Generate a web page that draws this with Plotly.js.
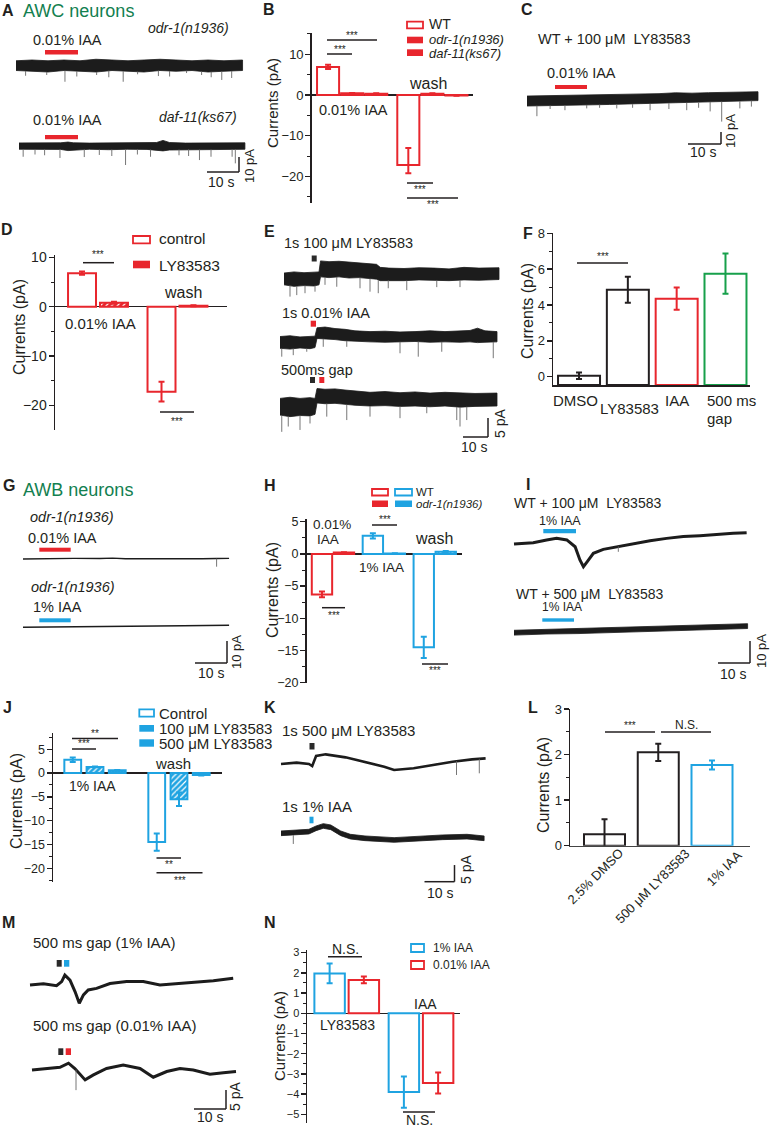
<!DOCTYPE html>
<html><head><meta charset="utf-8">
<script src="https://cdn.plot.ly/plotly-3.0.1.min.js"></script>
<style>html,body{margin:0;padding:0;background:#fff}#fig{width:770px;height:1129px}</style>
</head><body><div id="fig"></div>
<script>
// ===================== DATA =====================
// --- A: AWC recordings (time s, current pA) ---
const A1_t  = [0,5,10,15,20,25,30,35,40,45,50,55,60,65,70.8];
const A1_hi = [1.5,2,1.5,2,1.5,2.5,2,1.5,2,2.5,2,1.5,2,1.5,2];
const A1_lo = [-5,-5.5,-6,-5,-5.5,-6,-5,-5.5,-6,-5,-5.5,-5,-6,-5.5,-5];
const A1_spkT = [3,9.6,15.3,19,25.2,29,33.5,38,44.5,48,53.3,58,61,64.3,67.4];
const A1_spkV = [-8.5,-8,-12.5,-9,-8,-9.5,-12.5,-7.5,-8.7,-9,-6.7,-8,-9.5,-11.3,-10];
const A2_t  = [0,5,10,13,15.3,17,22,28,34,40,43,45,47,52,58,64,70.6];
const A2_hi = [0.7,0.8,0.6,0.8,1.3,0.8,0.6,0.8,0.6,0.8,1.0,2.4,1.0,0.6,0.8,0.6,0.8];
const A2_lo = [-3.5,-3.8,-3.5,-3.6,-4.4,-3.8,-3.5,-3.8,-3.5,-3.6,-4,-4.6,-4,-3.5,-3.8,-3.6,-3.5];
const A2_spkT = [1.3,5,8,12.8,20.4,25.1,29,33.3,37,41.1,50,53,56.4,60,66.6,67.6];
const A2_spkV = [-8.5,-7,-7.5,-9.3,-8.7,-7.3,-8,-14,-7,-8.5,-7.5,-8,-10.7,-8.5,-8.5,-12.9];
// --- C ---
const C_t  = [0,5,10,15,20,25,30,35,40,45,50,55,60,65,70];
const C_hi = [0.8,1.0,1.2,1.5,1.8,2.0,2.2,2.5,2.8,3.5,3.2,3.6,4.0,4.2,4.4];
const C_lo = [-7.5,-7.2,-7,-6.8,-6.5,-6.2,-6,-5.8,-5.5,-5,-4.8,-4.2,-3.8,-3.4,-3];
const C_spkT = [3,7,11.5,18.1,22,27.2,32,37.3,43,48.4,52,55.5,59,64.5,68];
const C_spkV = [-16,-10,-11,-9.5,-9,-9.5,-9,-11,-10,-11,-9,-12,-20.5,-9.5,-8];
// --- E ---
const E1_t  = [0,4,8,12,14,14.6,18,22,26,30,34,37,38.5,42,48,54,60,66,72,78,86];
const E1_hi = [1.3,1.6,1.4,1.5,1.6,4.5,4.3,4.4,4.2,4.0,3.8,3.6,2.8,2.6,2.5,2.7,2.6,2.4,2.8,2.6,2.7];
const E1_lo = [-1.8,-2.2,-2.0,-2.1,-1.8,0.3,0.1,0.3,0.0,0.1,-0.2,-0.3,-0.7,-0.6,-0.7,-0.5,-0.6,-0.7,-0.5,-0.6,-0.4];
const E1_spkT = [2.4,5.1,8.4,12.4,16.4,21.1,30.4,34.4,37.7,41.7,49.1,61.1,70.4];
const E1_spkV = [-4.9,-4.5,-4.0,-3.6,-1.8,-2.3,-2.7,-3.6,-4.0,-2.7,-3.2,-2.4,-2.4];
const E2_t  = [0,4,8,12,14,14.8,18,22,26,30,36,42,48,54,60,66,72,76,79,82,86.8];
const E2_hi = [1.7,1.9,1.6,1.8,1.8,4.0,4.2,3.8,3.6,3.2,3.0,3.1,2.9,3.0,3.2,3.0,3.1,3.3,3.9,3.2,3.0];
const E2_lo = [-1.4,-1.6,-1.3,-1.5,-1.2,1.2,1.0,0.9,0.6,0.4,0.3,0.2,0.3,0.4,0.2,0.3,0.2,0.3,0.1,0.2,0.3];
const E2_spkT = [0.7,5.3,10.7,17.3,26.7,48,55.3,64.7,85.3];
const E2_spkV = [-3.6,-3.2,-2.3,-1.0,-1.0,-2.7,-3.6,-2.3,-4.0];
const E3_t  = [0,4,8,12,14,14.8,18,22,26,30,36,42,48,54,60,66,72,78,86.8];
const E3_hi = [2.0,2.3,2.0,2.2,2.0,4.6,4.4,4.5,4.2,4.0,3.6,3.8,3.5,3.7,3.4,3.6,3.5,3.3,3.4];
const E3_lo = [-2.4,-2.8,-2.5,-2.6,-2.2,0.8,0.6,0.7,0.4,0.2,0.0,0.1,-0.1,0.0,-0.2,0.0,-0.3,-0.1,0.0];
const E3_spkT = [0.7,3.3,8,12,18.7,26.7,36,48,58.7,70.7,72,74.7];
const E3_spkV = [-6.8,-5.4,-6.3,-4.6,-2.8,-3.7,-2.8,-3.2,-1.9,-3.7,-5.4,-3.7];
// --- G ---
const G1_t = [0,8,16,24,28,32,40,48,56,60.5,64.4];
const G1_v = [0,0.2,0.3,0.2,0.4,0.1,0,0.2,0.1,0.2,0.3];
const G1_spkT = [60.5], G1_spkV = [-3.5];
const G2_t = [0,10,20,30,40,50,64.4];
const G2_v = [0,0.2,0.3,0.4,0.5,0.7,0.9];
// --- I ---
const I1_t = [0,6,10.2,13.3,16.5,19.1,20.6,21.7,22.9,24.8,27.9,32.1,37.3,42.5,47.7,52.9,58.1,63.3,68.5,72.7];
const I1_v = [-0.5,0.1,1.4,2.1,1.4,-1.7,-7.7,-10.8,-8.5,-4.7,-2.9,-1.7,-0.2,1.0,2.1,2.9,3.3,4.0,4.4,4.7];
const I1_spkT = [32.6], I1_spkV = [-4];
const I2_t  = [0,10,20,30,40,50,60,73];
const I2_hi = [1.1,1.5,1.9,2.3,2.6,3.1,3.5,4.1];
const I2_lo = [-1.1,-0.6,-0.4,0.1,0.4,0.9,1.3,1.9];
// --- K ---
const K1_t = [0,5.2,9.3,10.4,11.7,14.9,21.5,28,34.4,37.7,44.2,50.7,57.2,63.7,68.2];
const K1_v = [-0.3,0.1,-0.3,-0.9,2.1,2.6,1.7,0.4,-1.1,-2.1,-1.6,-0.6,0.4,1.1,1.4];
const K1_spkT = [58.5,66.1], K1_spkV = [-3.6,-3.1];
const K2_t  = [0,5.2,9.3,11.7,14.1,16.6,19.9,23.1,28,37.7,45.8,53.9,62,67.7];
const K2_hi = [0.7,0.9,1.2,2.2,2.9,2.5,0.7,-0.3,-0.8,-1.3,-0.8,-0.5,-0.3,-0.8];
const K2_lo = [-0.7,-0.5,-0.2,0.8,1.5,1.1,-0.7,-1.7,-2.2,-2.7,-2.2,-1.9,-1.7,-2.2];
const K2_spkT = [4.1], K2_spkV = [-3.2];
// --- M ---
const M1_t = [0,4.2,8.3,9.9,10.9,12.5,14.1,15.4,16.7,18.2,20.8,25,30.2,35.4,40.6,45.8,51,57.3,63.5];
const M1_v = [0,0.3,-0.2,0.9,2.6,1.3,-1.8,-4.8,-2.6,-1.3,-0.9,0.4,0.9,0.9,0,0.3,0.6,1.1,1.8];
const M2_t = [0,4.6,8.75,11.4,13.4,16.6,19.2,23.3,28.5,33.75,37.9,42.1,46.25,50.4,55.6,59.8,63.75];
const M2_v = [0,0.3,0.7,1.8,0.4,-2.6,-1.3,0.4,1.3,0.4,-1.9,-0.4,0.4,0,-1.1,-0.7,-0.4];
const M2_spkT = [13.75], M2_spkV = [-5.3];

// --- Bar panels (pA, mean and error) ---
const B_groups = ['0.01% IAA','wash'];
const B_WT = [6.9,-17.2], B_WT_errUp = [0.5,4.2], B_WT_errDn = [0.5,2.0];
const B_odr1 = [0.4,0.3],  B_odr1_err = [0.1,0.1];
const B_daf11 = [0.3,-0.1], B_daf11_err = [0.1,0.1];

const D_groups = ['0.01% IAA','wash'];
const D_control = [6.8,-17.2], D_control_err = [0.35,2.0];
const D_LY = [0.8,0.2], D_LY_err = [0.2,0.1];

const F_cats = ['DMSO','LY83583','IAA','500 ms gap'];
const F_vals = [0.05,4.85,4.35,5.75];
const F_err  = [0.18,0.72,0.62,1.12];

const H_groups = ['0.01% IAA','1% IAA','wash'];
const H_WT = [-6.3,2.8,-14.5], H_WT_err = [0.45,0.4,1.65];
const H_odr1 = [0.2,0.05,0.35], H_odr1_err = [0.05,0.05,0.1];

const J_groups = ['1% IAA','wash'];
const J_control = [2.8,-14.5], J_control_err = [0.45,1.8];
const J_LY100 = [1.3,-5.5], J_LY100_err = [0.1,1.4];
const J_LY500 = [0.6,-0.4], J_LY500_err = [0.05,0.1];

const L_cats = ['2.5% DMSO','500 μM LY83583','1% IAA'];
const L_vals = [0.25,2.05,1.77];
const L_err  = [0.33,0.19,0.1];

const N_groups = ['LY83583','IAA'];
const N_IAA1 = [1.97,-3.9],  N_IAA1_err = [0.49,0.77];
const N_IAA001 = [1.65,-3.45], N_IAA001_err = [0.17,0.52];

// ===================== DRAWING =====================
const W=770, H=1129, FONT='"Liberation Sans", Arial, sans-serif';
const BLK='#231f20', RED='#e8262d', BLUE='#1fa3e1', GREEN='#17a04b', TGREEN='#138050', TR='#1c1c1c';
const data=[], shapes=[], annotations=[];
const layout={width:W,height:H,margin:{l:0,r:0,t:0,b:0,pad:0},paper_bgcolor:'#fff',plot_bgcolor:'rgba(0,0,0,0)',
  showlegend:false,barmode:'overlay',font:{family:FONT,color:BLK},shapes,annotations};
const PX=x=>x/W, PY=y=>1-y/H;
const xk=n=>n===1?'xaxis':'xaxis'+n, yk=n=>n===1?'yaxis':'yaxis'+n;
const xr_=n=>n===1?'x':'x'+n, yr_=n=>n===1?'y':'y'+n;

function T(text,x,y,o){o=o||{};annotations.push({text,x:PX(x),y:PY(y),xref:'paper',yref:'paper',showarrow:false,
  xanchor:o.a||'center',yanchor:'middle',textangle:o.rot||0,borderpad:0,font:{family:FONT,size:o.s||14,color:o.c||BLK}});}
function LN(x0,y0,x1,y1,c,w){shapes.push({type:'line',xref:'paper',yref:'paper',x0:PX(x0),y0:PY(y0),x1:PX(x1),y1:PY(y1),line:{color:c||BLK,width:w||1.5}});}
function RC(x0,y0,x1,y1,fill,lc,lw){shapes.push({type:'rect',xref:'paper',yref:'paper',x0:PX(x0),y0:PY(y1),x1:PX(x1),y1:PY(y0),
  fillcolor:fill,line:{color:lc||fill,width:lw||0}});}
function sig(x0,x1,y,label,ly,s){LN(x0,y,x1,y,BLK,1.5);T(label,(x0+x1)/2,ly,{s:s||10});}

function addAxes(n,box,xr,yr,xo,yo){
  layout[xk(n)]=Object.assign({domain:[PX(box[0]),PX(box[1])],range:xr,anchor:yr_(n),showgrid:false,zeroline:false,showline:false,
    showticklabels:false,ticks:'',fixedrange:true},xo||{});
  layout[yk(n)]=Object.assign({domain:[PY(box[3]),PY(box[2])],range:yr,anchor:xr_(n),showgrid:false,zeroline:false,fixedrange:true},yo||{});
}
function yStyle(dtick,minor,fs,zero){
  return {showline:true,linecolor:BLK,linewidth:1.5,ticks:'outside',ticklen:5,tickwidth:1.5,tickcolor:BLK,dtick:dtick,tick0:0,
    tickfont:{size:fs,color:BLK,family:FONT},showticklabels:true,ticklabelstandoff:-1,
    minor:{dtick:minor,ticks:'outside',ticklen:3,tickwidth:1,tickcolor:BLK,showgrid:false},
    zeroline:!!zero,zerolinecolor:BLK,zerolinewidth:1.5};
}
function pat(shape,bg){return {shape:shape,fgcolor:'#ffffff',bgcolor:bg,size:4,solidity:0.3,fillmode:'replace'};}
function barSeries(n,xs,ys,center,width,lc,fill,pattern,base){
  const t={type:'bar',x:xs,y:ys,offset:center-width/2,width:width,xaxis:xr_(n),yaxis:yr_(n),
    marker:{color:fill,line:{color:lc,width:2}},hoverinfo:'skip'};
  if(pattern) t.marker.pattern=pattern;
  if(base!==undefined) t.base=base;
  data.push(t);
}
function errSeries(n,xs,ys,up,dn,color){
  data.push({type:'scatter',mode:'markers',x:xs,y:ys,xaxis:xr_(n),yaxis:yr_(n),hoverinfo:'skip',
    marker:{size:1,color:'rgba(0,0,0,0)'},
    error_y:{type:'data',symmetric:!dn,array:up,arrayminus:dn||up,color:color,thickness:2,width:3,visible:true}});
}
// recordings
const recScale={};
function recAxes(n,box,startPx,basePx,ppx,ppy){
  addAxes(n,box,[(box[0]-startPx)/ppx,(box[1]-startPx)/ppx],[(basePx-box[3])/ppy,(basePx-box[2])/ppy],{visible:false},{visible:false});
  recScale[n]={startPx,basePx,ppx,ppy};
}
function band(n,t,hi,lo){
  data.push({type:'scatter',mode:'lines',x:t.concat(t.slice().reverse()),y:hi.concat(lo.slice().reverse()),fill:'toself',
    fillcolor:TR,line:{color:TR,width:0.8},xaxis:xr_(n),yaxis:yr_(n),hoverinfo:'skip'});
}
function line(n,t,v,w){
  data.push({type:'scatter',mode:'lines',x:t,y:v,line:{color:TR,width:w},xaxis:xr_(n),yaxis:yr_(n),hoverinfo:'skip'});
}
function interp(t,v,x){for(let i=0;i<t.length-1;i++){if(x>=t[i]&&x<=t[i+1]){const f=(x-t[i])/(t[i+1]-t[i]);return v[i]+f*(v[i+1]-v[i]);}}return v[v.length-1];}
function spikes(n,rt,rv,st,sv){
  const x=[],y=[];st.forEach((tt,i)=>{x.push(tt,tt,null);y.push(interp(rt,rv,tt),sv[i],null);});
  data.push({type:'scatter',mode:'lines',x,y,line:{color:'#666',width:0.9},connectgaps:false,xaxis:xr_(n),yaxis:yr_(n),hoverinfo:'skip'});
}
function scaleBar(n,cpx,cpy,sec,pA){
  const s=recScale[n];const cx=(cpx-s.startPx)/s.ppx, cy=(s.basePx-cpy)/s.ppy;
  shapes.push({type:'line',xref:xr_(n),yref:yr_(n),x0:cx-sec,x1:cx,y0:cy,y1:cy,line:{color:BLK,width:1.5}});
  shapes.push({type:'line',xref:xr_(n),yref:yr_(n),x0:cx,x1:cx,y0:cy,y1:cy+pA,line:{color:BLK,width:1.5}});
}

// ---------- Panel B ----------
addAxes(1,[311.7,473,33,203],[-0.504,1.506],[-26.54,15.23],{},yStyle(10,5,13,true));
{const bx=B_groups.map((_,i)=>i);
 barSeries(1,bx,B_WT,-0.3,0.275,RED,'#fff');
 barSeries(1,bx,B_odr1,0,0.275,RED,RED,pat('.',RED));
 barSeries(1,bx,B_daf11,0.3,0.275,RED,RED,pat('+',RED));
 errSeries(1,bx.map(i=>i-0.3),B_WT,B_WT_errUp,B_WT_errDn,RED);
 errSeries(1,bx,B_odr1,B_odr1_err,null,RED);
 errSeries(1,bx.map(i=>i+0.3),B_daf11,B_daf11_err,null,RED);}
T('<b>B</b>',269,9,{s:16});
RC(407,21.7,423,28.3,'#fff',RED,1.8); T('WT',428,24.5,{a:'left',s:14});
RC(407,36.7,423,43.3,RED); T('<i>odr-1(n1936)</i>',428,40,{a:'left',s:13});
RC(407,49.3,423,56,RED); T('<i>daf-11(ks67)</i>',428,53,{a:'left',s:13});
sig(327,352,54,'***',50); sig(327,377,40,'***',35); sig(407,433,183,'***',190); sig(407,458,198,'***',204);
T('0.01% IAA',353,110,{s:14.5}); T('wash',428,83,{s:16});
T('Currents (pA)',272,103,{rot:-90,s:15});

// ---------- Panel D ----------
addAxes(2,[55,227,255,430],[-0.541,1.623],[-24.96,10.47],{},yStyle(10,5,14,true));
{const dx=D_groups.map((_,i)=>i);
 barSeries(2,dx,D_control,-0.201,0.352,RED,'#fff');
 barSeries(2,dx,D_LY,0.201,0.352,RED,RED,pat('/',RED));
 errSeries(2,dx.map(i=>i-0.201),D_control,D_control_err,null,RED);
 errSeries(2,dx.map(i=>i+0.201),D_LY,D_LY_err,null,RED);}
T('<b>D</b>',7,229,{s:16});
RC(133,236,150,243.3,'#fff',RED,1.8); T('control',158,239,{a:'left',s:15.5});
RC(133,260.7,150,268.3,RED); T('LY83583',158,265,{a:'left',s:15.5});
sig(83,114,262.7,'***',255); sig(160,194,412,'***',421);
T('0.01% IAA',101,323,{s:15}); T('wash',183,292,{s:16});
T('Currents (pA)',19,327,{rot:-90,s:16});

// ---------- Panel F ----------
const F_base=-0.463, F_colors=[BLK,BLK,RED,GREEN];
addAxes(3,[553,750,233.3,385],[-0.533,3.502],[F_base,8],{showline:true,linecolor:BLK,linewidth:1.5},yStyle(2,1,13,false));
F_vals.forEach((v,i)=>{barSeries(3,[i],[v-F_base],0,0.86,F_colors[i],'#fff',null,F_base);});
F_vals.forEach((v,i)=>{errSeries(3,[i],[v],[F_err[i]],null,F_colors[i]);});
T('<b>F</b>',528,233,{s:16});
sig(577,628,263,'***',256);
T('DMSO',575,400,{s:15}); T('LY83583',629,408,{s:15}); T('IAA',677,400,{s:15});
T('500 ms',706,400,{a:'left',s:15}); T('gap',706,418,{a:'left',s:15});
T('Currents (pA)',528,311,{rot:-90,s:16});

// ---------- Panel H ----------
const H_colors=[RED,BLUE,BLUE];
addAxes(4,[306.5,462,519,683],[-0.52,2.535],[-20.05,5.42],{},yStyle(5,2.5,12.5,true));
H_groups.forEach((g,i)=>{
  barSeries(4,[i],[H_WT[i]],-0.216,0.40,H_colors[i],'#fff');
  barSeries(4,[i],[H_odr1[i]],0.216,0.40,H_colors[i],H_colors[i],pat('.',H_colors[i]));
  errSeries(4,[i-0.216],[H_WT[i]],[H_WT_err[i]],null,H_colors[i]);
  errSeries(4,[i+0.216],[H_odr1[i]],[H_odr1_err[i]],null,H_colors[i]);
});
T('<b>H</b>',270,485,{s:16});
RC(372,489,388,495.5,'#fff',RED,1.8); RC(395,489,412,495.5,'#fff',BLUE,1.8); T('WT',415,492,{a:'left',s:11.5});
RC(372,500.5,388,507,RED); RC(395,500.5,412,507,BLUE); T('<i>odr-1(n1936)</i>',415,504,{a:'left',s:11.5});
sig(322,345,607.7,'***',615); sig(372,397,525,'***',519.5); sig(422,448,664,'***',670.5);
T('0.01%',332,524,{s:13.5}); T('IAA',328,539,{s:13.5}); T('1% IAA',381,567,{s:13.5}); T('wash',434,538,{s:16});
T('Currents (pA)',272,590,{rot:-90,s:16});

// ---------- Panel J ----------
addAxes(5,[53,222,733,881.7],[-0.5,1.512],[-22.82,8.42],{},yStyle(5,2.5,12.5,true));
{const jx=J_groups.map((_,i)=>i);
 barSeries(5,jx,J_control,-0.265,0.2,BLUE,'#fff');
 barSeries(5,jx,J_LY100,0,0.2,BLUE,BLUE,pat('/',BLUE));
 barSeries(5,jx,J_LY500,0.265,0.2,BLUE,BLUE,{shape:'.',fgcolor:'#7fcdf0',bgcolor:BLUE,size:3,solidity:0.2,fillmode:'replace'});
 errSeries(5,jx.map(i=>i-0.265),J_control,J_control_err,null,BLUE);
 errSeries(5,jx,J_LY100,J_LY100_err,null,BLUE);
 errSeries(5,jx.map(i=>i+0.265),J_LY500,J_LY500_err,null,BLUE);}
T('<b>J</b>',7,707,{s:16});
RC(139.3,709.3,154,716.7,'#fff',BLUE,1.8); T('Control',157.7,713,{a:'left',s:15});
RC(139.3,725,154,731.7,BLUE); T('100 μM LY83583',157.7,728.5,{a:'left',s:15});
RC(139.3,739.3,154,746.7,BLUE); T('500 μM LY83583',157.7,743,{a:'left',s:15});
sig(72,118,738.5,'**',733); sig(72,96,749,'***',743.5);
sig(156.5,181,858,'**',864); sig(156.5,202.5,872.7,'***',880);
T('1% IAA',92,786,{s:14}); T('wash',173,763,{s:15});
T('Currents (pA)',16,801,{rot:-90,s:16});

// ---------- Panel L ----------
const L_colors=[BLK,BLK,BLUE];
addAxes(6,[570,750,709,845.7],[-0.642,2.707],[0,3],{showline:true,linecolor:'#444',linewidth:1.5},yStyle(1,0.5,13,false));
L_vals.forEach((v,i)=>{barSeries(6,[i],[v],0,0.763,L_colors[i],'#fff');});
L_vals.forEach((v,i)=>{errSeries(6,[i],[v],[L_err[i]],null,L_colors[i]);});
T('<b>L</b>',533,707,{s:16});
sig(605,655,732,'***',725); sig(661,711,732,'N.S.',725,12);
T(L_cats[0],595,876,{rot:-45,s:13}); T(L_cats[1],652,886,{rot:-45,s:13}); T(L_cats[2],724,868,{rot:-45,s:13});
T('Currents (pA)',543,785,{rot:-90,s:16});

// ---------- Panel N ----------
addAxes(7,[307,460,950,1123],[-0.535,1.525],[-5.43,3.13],{},yStyle(1,0.5,11,true));
{const nx=N_groups.map((_,i)=>i);
 barSeries(7,nx,N_IAA1,-0.2305,0.41,BLUE,'#fff');
 barSeries(7,nx,N_IAA001,0.2305,0.41,RED,'#fff');
 errSeries(7,nx.map(i=>i-0.2305),N_IAA1,N_IAA1_err,null,BLUE);
 errSeries(7,nx.map(i=>i+0.2305),N_IAA001,N_IAA001_err,null,RED);}
T('<b>N</b>',270,922,{s:16});
RC(411,944,424,952,'#fff',BLUE,1.8); T('1% IAA',432,948,{a:'left',s:12});
RC(411,961,424,969,'#fff',RED,1.8); T('0.01% IAA',432,965,{a:'left',s:12});
sig(328,362,956.7,'N.S.',949,14); sig(403,435,1112,'N.S.',1120,14);
T('LY83583',347,1025,{s:14}); T('IAA',425,1004,{s:14});
T('Currents (pA)',279,1036,{rot:-90,s:15});

// ---------- Panel A ----------
recAxes(8,[10,260,45,90],16,63,3.2,1.5);  band(8,A1_t,A1_hi,A1_lo); spikes(8,A1_t,A1_lo,A1_spkT,A1_spkV);
recAxes(9,[10,258,125,190],19,144,3.2,1.5); band(9,A2_t,A2_hi,A2_lo); spikes(9,A2_t,A2_lo,A2_spkT,A2_spkV);
scaleBar(9,239,172,10,10);
T('<b>A</b>',8,11,{s:16}); T('AWC neurons',22,11,{a:'left',s:18,c:TGREEN});
T('<i>odr-1(n1936)</i>',188,28,{s:14}); T('0.01% IAA',32,40,{a:'left',s:14.5}); RC(45,50,78,54.5,RED);
T('<i>daf-11(ks67)</i>',198,117,{s:14}); T('0.01% IAA',32,120,{a:'left',s:14.5}); RC(45,135,78,139.3,RED);
T('10 s',221,182,{s:14}); T('10 pA',249,166,{rot:-90,s:13});

// ---------- Panel C ----------
recAxes(10,[520,765,85,160],527,97,3.3,1.2); band(10,C_t,C_hi,C_lo); spikes(10,C_t,C_lo,C_spkT,C_spkV);
scaleBar(10,721,144,10,10);
T('<b>C</b>',527,9,{s:16}); T('WT + 100 μM\u00a0 LY83583',537,39,{a:'left',s:14.5});
T('0.01% IAA',546,73,{a:'left',s:14.5}); RC(555,85,587,89,RED);
T('10 s',703,152,{s:14}); T('10 pA',730,131,{rot:-90,s:13});

// ---------- Panel E ----------
recAxes(11,[275,505,250,300],284,278,2.5,3.8); band(11,E1_t,E1_hi,E1_lo); spikes(11,E1_t,E1_lo,E1_spkT,E1_spkV);
recAxes(12,[275,505,318,362],280,343,2.5,3.8); band(12,E2_t,E2_hi,E2_lo); spikes(12,E2_t,E2_lo,E2_spkT,E2_spkV);
recAxes(13,[275,505,385,445],280,406,2.5,3.8); band(13,E3_t,E3_hi,E3_lo); spikes(13,E3_t,E3_lo,E3_spkT,E3_spkV);
scaleBar(13,488,437,10,5);
T('<b>E</b>',269,231,{s:16});
T('1s 100 μM LY83583',283,243,{a:'left',s:14.5}); RC(311.7,255.5,316.7,261.5,'#2a2a2a');
T('1s 0.01% IAA',281,313,{a:'left',s:14.5}); RC(310.7,320.7,316,326.7,RED);
T('500ms gap',280,370,{a:'left',s:14.5}); RC(310,377,315,383,'#2a2a2a'); RC(319.3,377,324.3,383,RED);
T('10 s',474,447,{s:14}); T('5 pA',500,424,{rot:-90,s:14});

// ---------- Panel G ----------
recAxes(14,[15,240,548,572],23,559,3.2,2.2); line(14,G1_t,G1_v,1.4); spikes(14,G1_t,G1_v,G1_spkT,G1_spkV);
recAxes(15,[15,245,612,678],23,627.3,3.2,2.2); line(15,G2_t,G2_v,1.6);
scaleBar(15,227,663,10,10);
T('<b>G</b>',9,485,{s:16}); T('AWB neurons',22,489.5,{a:'left',s:18,c:TGREEN});
T('<i>odr-1(n1936)</i>',29,517,{a:'left',s:14.5}); T('0.01% IAA',27,538,{a:'left',s:14.5}); RC(39.3,547.7,70.7,551.7,RED);
T('<i>odr-1(n1936)</i>',30,587,{a:'left',s:14.5}); T('1% IAA',32,607,{a:'left',s:14.5}); RC(39.3,618.3,70.7,622.3,BLUE);
T('10 s',211,673,{s:14}); T('10 pA',236,652,{rot:-90,s:13});

// ---------- Panel I ----------
recAxes(16,[505,765,520,580],514,543,3.2,2.2); line(16,I1_t,I1_v,3); spikes(16,I1_t,I1_v,I1_spkT,I1_spkV);
recAxes(17,[505,768,612,680],514,632.7,3.2,2.2); band(17,I2_t,I2_hi,I2_lo);
scaleBar(17,750,663,10,10);
T('<b>I</b>',528,484,{s:16});
T('WT + 100 μM\u00a0 LY83583',513,503,{a:'left',s:14}); T('1% IAA',538,520.5,{a:'left',s:12.5}); RC(543.3,529,576,533.3,BLUE);
T('WT + 500 μM\u00a0 LY83583',515,593.5,{a:'left',s:14}); T('1% IAA',541,607,{a:'left',s:12}); RC(542.3,618.3,574,621.7,BLUE);
T('10 s',733,674,{s:14}); T('10 pA',761,651,{rot:-90,s:13});

// ---------- Panel K ----------
recAxes(18,[275,500,735,785],281,763,3.0,3.33); line(18,K1_t,K1_v,2.6); spikes(18,K1_t,K1_v,K1_spkT,K1_spkV);
recAxes(19,[275,500,805,900],281,833.3,3.0,3.33); band(19,K2_t,K2_hi,K2_lo); spikes(19,K2_t,K2_lo,K2_spkT,K2_spkV);
scaleBar(19,454.5,881.7,10,5);
T('<b>K</b>',270,707,{s:16});
T('1s 500 μM LY83583',281,730,{a:'left',s:15}); RC(309.5,743,314.5,749.5,'#2a2a2a');
T('1s 1% IAA',281,807,{a:'left',s:15}); RC(309.5,816.7,313.5,823.3,BLUE);
T('10 s',439.5,893,{s:14}); T('5 pA',466,870,{rot:-90,s:14});

// ---------- Panel M ----------
recAxes(20,[25,240,960,1012],30,985,3.2,3.8); line(20,M1_t,M1_v,3);
recAxes(21,[25,245,1045,1125],32,1070,3.2,3.8); line(21,M2_t,M2_v,3); spikes(21,M2_t,M2_v,M2_spkT,M2_spkV);
scaleBar(21,226,1109,10,5);
T('<b>M</b>',8,922,{s:16});
T('500 ms gap (1% IAA)',32,942,{a:'left',s:15}); RC(56.7,960,61.7,966.7,'#2a2a2a'); RC(64,960,69.3,966.7,BLUE);
T('500 ms gap (0.01% IAA)',32,1025,{a:'left',s:15}); RC(58.3,1048.3,63.3,1055,'#2a2a2a'); RC(65.7,1048.3,71,1055,RED);
T('10 s',210,1117,{s:14}); T('5 pA',235,1097,{rot:-90,s:14});

Plotly.newPlot('fig',data,layout,{displayModeBar:false,staticPlot:true});
</script></body></html>
